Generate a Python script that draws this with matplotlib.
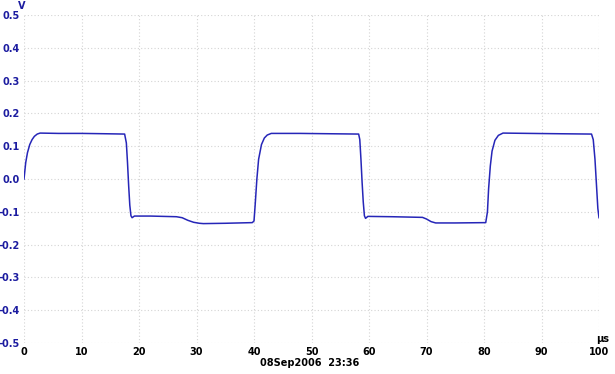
import matplotlib
matplotlib.use('Agg')
import matplotlib.pyplot as plt

# waveform (time in us, volts)
t_us = [0.0, 0.3, 0.6, 1.0, 1.4, 1.8, 2.3, 2.8, 6.0, 10.0, 14.0, 17.5,
        17.8, 18.0, 18.2, 18.4, 18.6, 18.8, 19.2, 22.0, 26.5, 27.5, 28.5, 29.5, 30.5, 31.2, 35.0, 39.7,
        40.0, 40.2, 40.5, 40.8, 41.3, 41.8, 42.3, 43.0, 48.0, 53.0, 58.2,
        58.4, 58.6, 58.8, 59.0, 59.2, 59.4, 59.8, 64.0, 69.3, 70.0, 70.8, 71.6, 75.0, 80.3,
        80.6, 80.8, 81.1, 81.4, 81.9, 82.5, 83.3, 88.0, 93.0, 98.7,
        99.0, 99.3, 99.6, 99.8, 100.0]
volts = [0.0, 0.05, 0.08, 0.105, 0.12, 0.13, 0.137, 0.14, 0.139, 0.139, 0.138, 0.137,
         0.11, 0.05, -0.02, -0.08, -0.112, -0.118, -0.113, -0.113, -0.115, -0.118, -0.126, -0.132, -0.135, -0.136, -0.135, -0.133,
         -0.128, -0.08, 0.0, 0.06, 0.105, 0.125, 0.134, 0.139, 0.139, 0.138, 0.137,
         0.12, 0.06, -0.01, -0.07, -0.112, -0.12, -0.114, -0.115, -0.117, -0.122, -0.13, -0.134, -0.134, -0.133,
         -0.1, -0.03, 0.04, 0.085, 0.118, 0.133, 0.14, 0.139, 0.138, 0.137,
         0.12, 0.06, -0.03, -0.09, -0.118]

x_ticks = [0, 10, 20, 30, 40, 50, 60, 70, 80, 90, 100]
y_ticks = [0.5, 0.4, 0.3, 0.2, 0.1, 0.0, -0.1, -0.2, -0.3, -0.4, -0.5]
stamp = "08Sep2006  23:36"

fig = plt.figure(figsize=(6.15, 3.74), dpi=100)
ax = fig.add_axes([24 / 615, 1 - 343 / 374, 575 / 615, 328 / 374])

ax.plot(t_us, volts, color='#2626b8', lw=1.1)

ax.set_xlim(0, 100)
ax.set_ylim(-0.5, 0.5)
ax.set_xticks(x_ticks)
ax.set_yticks(y_ticks)
ax.set_xticklabels([str(v) for v in x_ticks], fontsize=7, fontweight='bold', color='black')
ax.set_yticklabels(['%.1f' % v for v in y_ticks], fontsize=7, fontweight='bold', color='#1c1ca0')
ax.tick_params(length=0, pad=3)
ax.grid(True, color='#d4d4d4', linestyle=(0, (1, 2)), lw=0.8)
for s in ax.spines.values():
    s.set_visible(False)

fig.text(22 / 615, 1 - 6 / 374, 'V', fontsize=7, fontweight='bold', color='#1c1ca0', ha='center', va='center')
fig.text(603 / 615, 1 - 339 / 374, 'µs', fontsize=7, fontweight='bold', color='black', ha='center', va='center')
fig.text(310 / 615, 1 - 363 / 374, stamp, fontsize=7, fontweight='bold', color='black', ha='center', va='center')

fig.savefig('out.png', dpi=100)
